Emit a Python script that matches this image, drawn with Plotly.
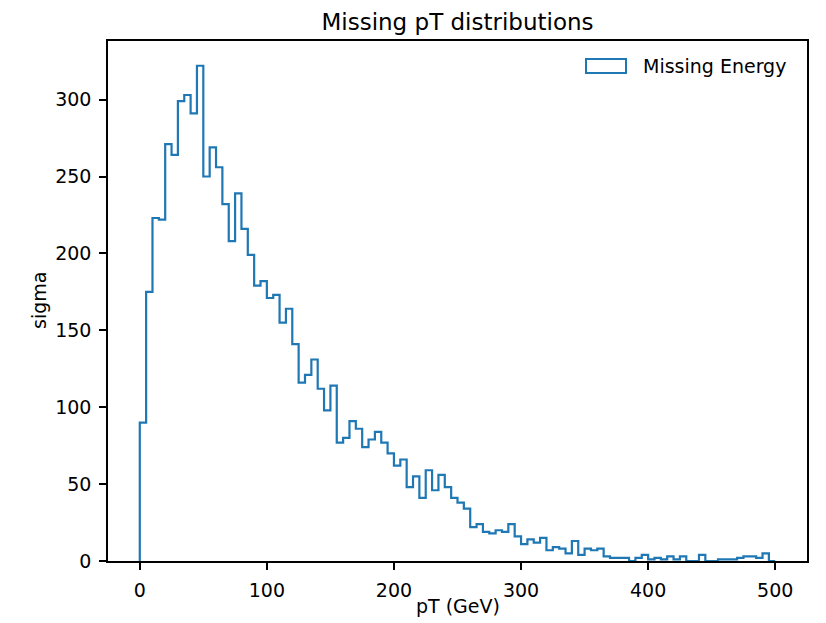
import plotly.graph_objects as go

# ---- data ----
bin_width = 5
counts = [90, 175, 223, 222, 271, 264, 299, 303, 291, 322,
          250, 269, 256, 232, 208, 239, 216, 199, 179, 182,
          171, 173, 155, 164, 141, 116, 121, 131, 112, 98,
          114, 77, 80, 91, 86, 74, 79, 84, 77, 70,
          62, 66, 48, 55, 41, 59, 46, 56, 48, 41,
          38, 34, 22, 24, 19, 18, 20, 19, 24, 16,
          11, 14, 12, 15, 7, 9, 8, 5, 13, 4,
          8, 7, 8, 3, 2, 2, 2, 0, 2, 4,
          1, 2, 1, 3, 1, 3, 0, 0, 4, 0,
          0, 1, 1, 1, 2, 3, 3, 2, 5, 0]
x_ticks = [0, 100, 200, 300, 400, 500]
y_ticks = [0, 50, 100, 150, 200, 250, 300]
series_name = "Missing Energy"
title_text = "Missing pT distributions"
x_label = "pT (GeV)"
y_label = "sigma"

# step outline (matplotlib histtype='step')
n = len(counts)
edges = [i * bin_width for i in range(n + 1)]
xs = [edges[0]] + edges[:-1] + [edges[-1]]
ys = [0] + counts + [0]

BLUE = "#1f77b4"
FONT = "DejaVu Sans"

fig = go.Figure()
fig.add_trace(go.Scatter(x=xs, y=ys, mode="lines", line=dict(color=BLUE, width=2.2, shape="hv"),
                         name=series_name, showlegend=False, hoverinfo="skip"))

# page has an 8px body margin -> work in screen pixels, shift by OFF
OFF = 8
W, H = 826 - OFF, 623 - OFF
L, R, T, B = 108 - OFF, 807 - OFF, 41 - OFF, 561 - OFF
pw, ph = R - L, B - T

def px(x):  # screen x -> paper
    return (x - OFF - L) / pw

def py(y):  # screen y -> paper
    return (B - (y - OFF)) / ph

fig.update_layout(
    width=W, height=H,
    margin=dict(l=L, r=W - R, t=T, b=H - B, pad=0),
    paper_bgcolor="white", plot_bgcolor="white",
    font=dict(family=FONT, size=19, color="black"),
    showlegend=False,
    title=dict(text=title_text, x=0.5, xref="paper", xanchor="center",
               y=1 - (22 - OFF) / H, yref="container", yanchor="middle",
               font=dict(family=FONT, size=23, color="black")),
)

axis_common = dict(showline=True, mirror=True, linecolor="black", linewidth=1.5,
                   ticks="outside", ticklen=7, tickwidth=1.5, tickcolor="black",
                   showgrid=False, zeroline=False,
                   tickfont=dict(family=FONT, size=19, color="black"))
fig.update_xaxes(range=[-25, 525], tickvals=x_ticks, ticklabelstandoff=4, **axis_common)
fig.update_yaxes(range=[0, max(counts) * 1.05], tickvals=y_ticks, ticklabelstandoff=4, **axis_common)

# axis labels
fig.add_annotation(text=x_label, xref="paper", yref="paper", x=0.5, y=py(606),
                   xanchor="center", yanchor="middle", showarrow=False,
                   font=dict(family=FONT, size=19, color="black"))
fig.add_annotation(text=y_label, xref="paper", yref="paper", x=px(39), y=0.5,
                   xanchor="center", yanchor="middle", showarrow=False, textangle=-90,
                   font=dict(family=FONT, size=19, color="black"))

# legend (matplotlib-style patch)
fig.add_shape(type="rect", xref="paper", yref="paper",
              x0=px(586), x1=px(626), y0=py(73), y1=py(59),
              line=dict(color=BLUE, width=2), fillcolor="rgba(0,0,0,0)")
fig.add_annotation(text=series_name, xref="paper", yref="paper", x=px(641), y=py(66),
                   xanchor="left", yanchor="middle", showarrow=False,
                   font=dict(family=FONT, size=19, color="black"))

fig.write_html("out.html")
